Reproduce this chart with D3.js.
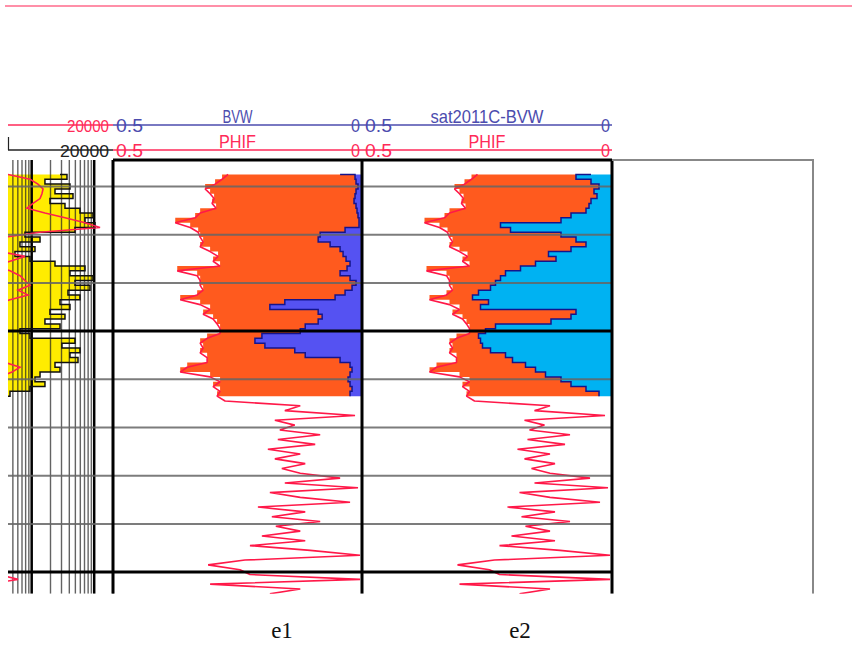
<!DOCTYPE html>
<html>
<head>
<meta charset="utf-8">
<script src="https://cdn.jsdelivr.net/npm/d3@7"></script>
<style>
  body { margin: 0; background: #fff; }
  svg { display: block; }
</style>
</head>
<body>
<div id="chart"></div>
<script>
// LAS style sampling grid (metres)
const DEPTH_START = 2416.75;
const DEPTH_STEP = 0.1;

// effective porosity, v/v (shared by both tracks)
const PHIF = [
  0.269, 0.281, 0.295, 0.315, 0.305, 0.297, 0.301, 0.293, 0.325, 0.335,
  0.375, 0.345, 0.329, 0.325, 0.319, 0.325, 0.305, 0.289, 0.299, 0.285,
  0.371, 0.331, 0.325, 0.325, 0.319, 0.331, 0.365, 0.325, 0.305, 0.319,
  0.299, 0.291, 0.285, 0.285, 0.311, 0.325, 0.319, 0.325, 0.311, 0.311,
  0.351, 0.365, 0.305, 0.285, 0.299, 0.285, 0.291, 0.275, 0.124, 0.155,
  0.014, 0.175, 0.135, 0.165, 0.084, 0.169, 0.094, 0.189, 0.124, 0.175,
  0.114, 0.161, 0.124, 0.044, 0.155, 0.008, 0.185, 0.124, 0.024, 0.209,
  0.114, 0.181, 0.084, 0.173, 0.124, 0.201, 0.114, 0.225, 0.104, 0.004,
  0.235, 0.309, 0.245, 0.225, 0.004, 0.305, 0.124, 0.185
];

// bulk volume water, e1 (only computed over the reservoir interval)
const BVW = [
  0.044, 0.014, 0.012, 0.008, 0.012, 0.014, 0.016, 0.012, 0.010, 0.008,
  0.006, 0.006, 0.034, 0.084, 0.088, 0.064, 0.044, 0.038, 0.032, 0.024,
  0.030, 0.044, 0.024, 0.012, 0.020, 0.034, 0.054, 0.155, 0.185, 0.088,
  0.080, 0.088, 0.114, 0.124, 0.201, 0.215, 0.195, 0.135, 0.114, 0.044,
  0.024, 0.020, 0.024, 0.028, 0.024, 0.020, 0.024
];

// sat2011C-BVW, e2
const BVW2 = [
  0.042, 0.072, 0.042, 0.026, 0.036, 0.030, 0.042, 0.046, 0.052, 0.082,
  0.102, 0.223, 0.203, 0.102, 0.072, 0.052, 0.082, 0.127, 0.112, 0.153,
  0.183, 0.213, 0.223, 0.233, 0.243, 0.267, 0.279, 0.247, 0.263, 0.072,
  0.082, 0.122, 0.233, 0.253, 0.267, 0.263, 0.259, 0.243, 0.213, 0.199,
  0.173, 0.153, 0.133, 0.102, 0.082, 0.052, 0.026
];

// resistivity track (ohm.m), log scale 2 - 20000
const RT = [
  2840, 3670, 1630, 4100, 2360, 4580, 1960, 3410, 5930, 9570,
  7130, 10300, 4930, 780, 1360, 650, 1130, 540, 940, 2360,
  7130, 4100, 9570, 4930, 8570, 3810, 5930, 2840, 4100, 1960,
  3410, 1630, 2840, 650, 940, 4930, 3050, 5930, 4100, 5510,
  2360, 2840, 1360, 1130, 1630, 940, 450, 180, 95, 140,
  75, 120, 160, 88, 130, 105, 150, 70, 115, 140,
  90, 125, 160, 100, 80, 135, 110, 95, 145, 120,
  85, 160, 130, 100, 70, 115, 140, 90, 125, 150,
  105, 80, 260, 120, 95, 300, 110, 140
];

const RXO = [
  418, 940, 1260, 1520, 1460, 1360, 1050, 840, 1630, 3410,
  7130, 12400, 1360, 374, 215, 149, 311, 780, 450, 259,
  450, 650, 780, 940, 604, 873, 450, 259, 215, 180,
  150, 200, 240, 170, 130, 190, 220, 160, 250, 374,
  650, 484, 311, 150, 120, 180, 100, 140, 160, 110,
  130, 90, 170, 140, 120, 100, 150, 130, 110, 160,
  90, 140, 120, 180, 100, 130, 150, 110, 90, 140,
  170, 120, 100, 160, 130, 110, 150, 90, 140, 120,
  180, 200, 250, 300, 604, 215, 120, 100
];

const DEPTH_TICKS = [2417, 2418, 2419, 2420, 2421, 2422, 2423, 2424, 2425];
const MAJOR_DEPTHS = [2420, 2425];
const CAPTIONS = ["e1", "e2"];

const width = 852, height = 652;
const trackTop = 160, trackBottom = 593.8;
const FONT = "'Liberation Sans Narrow','Liberation Sans',Arial,sans-serif";

const rows = PHIF.map((p, i) => ({
  depth: DEPTH_START + i * DEPTH_STEP,
  phif: p,
  bvw: BVW[i],
  bvw2: BVW2[i],
  rt: RT[i],
  rxo: RXO[i]
}));

const svg = d3.select("#chart").append("svg")
  .attr("width", width)
  .attr("height", height);

svg.append("clipPath").attr("id", "body-clip")
  .append("rect").attr("x", 8).attr("y", 0).attr("width", width - 8).attr("height", trackBottom);

const y = d3.scaleLinear().domain([2416.45, 2425.45]).range([trackTop, trackBottom]);

const xLog = d3.scaleLog().domain([2, 20000]).range([-137, 113]);
const x1 = d3.scaleLinear().domain([0.5, 0]).range([113, 362]);
const x2 = d3.scaleLinear().domain([0.5, 0]).range([362, 612]);

// pink line at the very top
svg.append("line")
  .attr("x1", 5).attr("x2", width).attr("y1", 6).attr("y2", 6)
  .attr("stroke", "#ff8fa8").attr("stroke-width", 2);

const body = svg.append("g").attr("clip-path", "url(#body-clip)");

// ---- resistivity track ----
body.append("path")
  .datum(rows)
  .attr("fill", "#ffec00")
  .attr("d", d3.area()
    .y(d => y(d.depth))
    .x0(xLog(2))
    .x1(d => xLog(d.rt))
    .curve(d3.curveStepAfter));

const isDecade = d => Math.abs(Math.log10(d) - Math.round(Math.log10(d))) < 1e-9;

body.selectAll(".log-grid")
  .data(xLog.ticks())
  .enter()
  .append("line")
  .attr("x1", d => xLog(d)).attr("x2", d => xLog(d))
  .attr("y1", trackTop).attr("y2", trackBottom)
  .attr("stroke", d => isDecade(d) ? "#000" : "#222")
  .attr("stroke-width", d => isDecade(d) ? 2.5 : 1.4)
  .attr("opacity", d => isDecade(d) ? 1 : 0.7);

body.append("path")
  .datum(rows)
  .attr("fill", "none")
  .attr("stroke", "#111")
  .attr("stroke-width", 1.5)
  .attr("d", d3.line().y(d => y(d.depth)).x(d => xLog(d.rt)).curve(d3.curveStepAfter));

body.append("path")
  .datum(rows)
  .attr("fill", "none")
  .attr("stroke", "#ff2050")
  .attr("stroke-width", 1.6)
  .attr("d", d3.line().y(d => y(d.depth)).x(d => xLog(d.rxo)));

// ---- saturation tracks ----
function satTrack(x, key, waterFill) {
  const g = body.append("g");
  const res = rows.filter(d => d[key] != null);

  g.append("path").datum(res)
    .attr("fill", "#ff5a1e")
    .attr("d", d3.area().y(d => y(d.depth))
      .x0(d => x(d.phif)).x1(d => x(d[key])).curve(d3.curveStepAfter));

  g.append("path").datum(res)
    .attr("fill", waterFill)
    .attr("d", d3.area().y(d => y(d.depth))
      .x0(d => x(d[key])).x1(x(0)).curve(d3.curveStepAfter));

  g.append("path").datum(res)
    .attr("fill", "none")
    .attr("stroke", "#14148c")
    .attr("stroke-width", 1.5)
    .attr("d", d3.line().y(d => y(d.depth)).x(d => x(d[key])).curve(d3.curveStepAfter));

  g.append("path").datum(rows)
    .attr("fill", "none")
    .attr("stroke", "#ff1848")
    .attr("stroke-width", 1.6)
    .attr("stroke-linejoin", "bevel")
    .attr("d", d3.line().y(d => y(d.depth)).x(d => x(d.phif)));
}
satTrack(x1, "bvw", "#5552f2");
satTrack(x2, "bvw2", "#00b2f2");

// depth grid
body.selectAll(".depth-grid")
  .data(DEPTH_TICKS)
  .enter()
  .append("line")
  .attr("x1", 8).attr("x2", 612)
  .attr("y1", d => y(d)).attr("y2", d => y(d))
  .attr("stroke", d => MAJOR_DEPTHS.includes(d) ? "#000" : "#666")
  .attr("stroke-width", d => MAJOR_DEPTHS.includes(d) ? 3 : 2)
  .attr("opacity", d => MAJOR_DEPTHS.includes(d) ? 1 : 0.85);

// track frames
body.append("line").attr("x1", 113).attr("x2", 612).attr("y1", trackTop).attr("y2", trackTop)
  .attr("stroke", "#000").attr("stroke-width", 3);
body.selectAll(".border")
  .data([113, 362, 612])
  .enter()
  .append("line")
  .attr("x1", d => d).attr("x2", d => d)
  .attr("y1", trackTop).attr("y2", trackBottom)
  .attr("stroke", "#000").attr("stroke-width", 3);
body.append("path")
  .attr("d", `M612,${trackTop}H813V${trackBottom}`)
  .attr("fill", "none").attr("stroke", "#888").attr("stroke-width", 2);

// ---- header ----
const head = svg.append("g").attr("font-family", FONT).attr("font-size", 19);

function scaleLine(xa, xb, ly, color) {
  head.append("line").attr("x1", xa).attr("x2", xb).attr("y1", ly).attr("y2", ly)
    .attr("stroke", color).attr("stroke-width", 1.5);
}
function label(x, ly, txt, color, anchor, len, size) {
  head.append("text")
    .attr("x", x).attr("y", ly)
    .attr("text-anchor", anchor)
    .attr("fill", color)
    .attr("font-size", size || 19)
    .attr("textLength", len)
    .attr("lengthAdjust", "spacingAndGlyphs")
    .text(txt);
}

const BLUE = "#4c4cae", RED = "#ff2a58", BLACK = "#222";
const row1 = 125, row2 = 150;

scaleLine(8, 113, row1, RED);
scaleLine(113, 612, row1, BLUE);
scaleLine(8, 113, row2, BLACK);
scaleLine(113, 612, row2, RED);
head.append("line").attr("x1", 8.5).attr("x2", 8.5).attr("y1", 137).attr("y2", row2)
  .attr("stroke", BLACK).attr("stroke-width", 1.2);

// left-anchored so the stretched width is predictable
label(67, row1 + 7, "20000", RED, "start", 42, 17);
label(60, row2 + 7, "20000", BLACK, "start", 49, 17);

[[x1, "BVW", 30], [x2, "sat2011C-BVW", 113]].forEach(([x, title, tl]) => {
  const [a, b] = x.range();
  label(a + 3, row1 + 7, "0.5", BLUE, "start", 27);
  label(b - 11, row1 + 7, "0", BLUE, "start", 9);
  label((a + b) / 2, row1 - 2, title, BLUE, "middle", tl);
  label(a + 3, row2 + 7, "0.5", RED, "start", 27);
  label(b - 11, row2 + 7, "0", RED, "start", 9);
  label((a + b) / 2, row2 - 2, "PHIF", RED, "middle", 37);
});

// captions under the tracks
svg.selectAll(".caption")
  .data(CAPTIONS)
  .enter()
  .append("text")
  .attr("x", (d, i) => i === 0 ? 282 : 520)
  .attr("y", 638)
  .attr("text-anchor", "middle")
  .attr("font-family", "'Liberation Serif','Times New Roman',serif")
  .attr("font-size", 23)
  .attr("fill", "#111")
  .text(d => d);
</script>
</body>
</html>
